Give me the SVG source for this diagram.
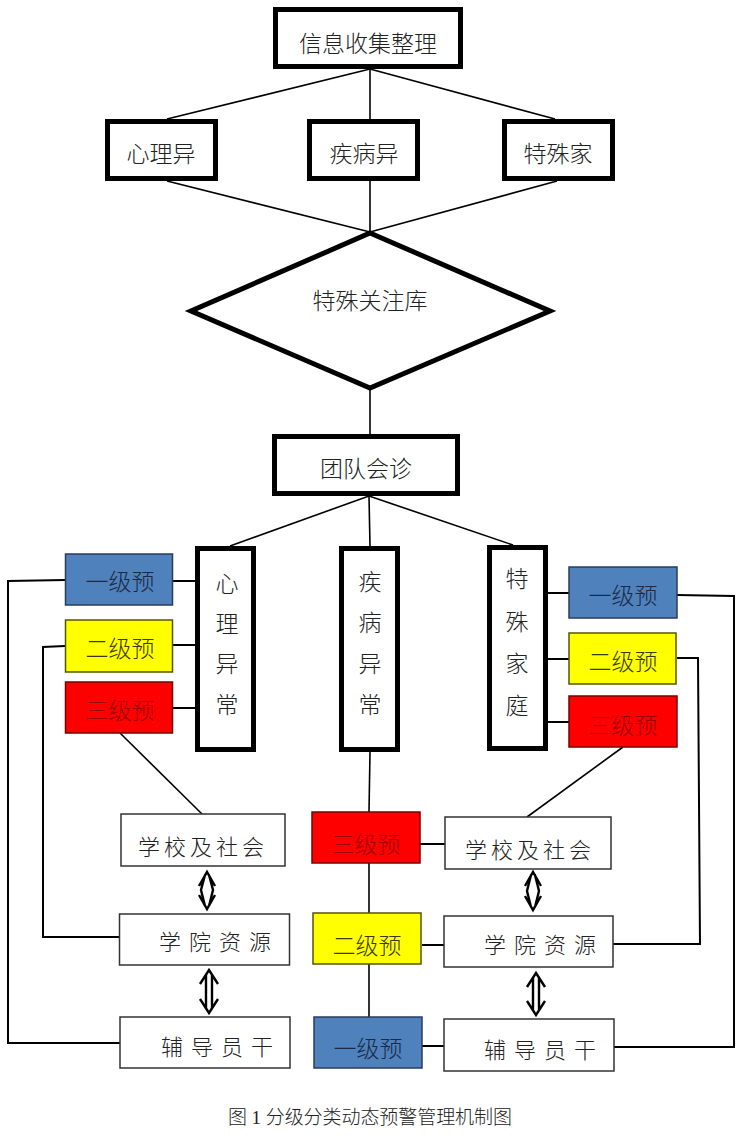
<svg xmlns="http://www.w3.org/2000/svg" width="742" height="1140" viewBox="0 0 742 1140">
<style>
text{font-family:"Noto Sans CJK SC","Noto Sans CJK JP",sans-serif;text-anchor:middle;dominant-baseline:central;fill:#222;font-weight:300}
.thick{fill:#fff;stroke:#000;stroke-width:5}
.thin{fill:#fff;stroke:#333;stroke-width:1.5}
.blue{fill:#4f81bd;stroke:#2a3d5c;stroke-width:1.5}
.yel{fill:#ffff00;stroke:#555500;stroke-width:1.5}
.red{fill:#ff0000;stroke:#7a0000;stroke-width:1.5}
.t23{font-size:23px}
.t22{font-size:22px}
.tb{fill:#1b2a45}
.ty{fill:#3a3a10}
.tr{fill:#9a0000}
.ln{stroke:#000;stroke-width:1.6;fill:none}
.ln2{stroke:#000;stroke-width:2;fill:none}
.ar{stroke:#000;stroke-width:2.4;fill:none;stroke-linejoin:miter}
</style>
<rect width="742" height="1140" fill="#fff"/>
<g id="connectors">
<line class="ln" x1="370" y1="69" x2="167" y2="119"/>
<line class="ln" x1="370" y1="69" x2="370" y2="119"/>
<line class="ln" x1="370" y1="69" x2="555" y2="119"/>
<line class="ln" x1="167" y1="181" x2="370" y2="232"/>
<line class="ln" x1="370" y1="181" x2="370" y2="232"/>
<line class="ln" x1="557" y1="181" x2="370" y2="232"/>
<line class="ln" x1="370" y1="388" x2="370" y2="434"/>
<line class="ln" x1="369" y1="496" x2="230" y2="546"/>
<line class="ln" x1="369" y1="496" x2="370" y2="546"/>
<line class="ln" x1="369" y1="496" x2="513" y2="545"/>
<line class="ln2" x1="173" y1="581" x2="195" y2="581"/>
<line class="ln2" x1="173" y1="645" x2="195" y2="645"/>
<line class="ln2" x1="173" y1="708" x2="195" y2="708"/>
<line class="ln2" x1="548" y1="593" x2="569" y2="593"/>
<line class="ln2" x1="548" y1="659" x2="569" y2="659"/>
<line class="ln2" x1="548" y1="722" x2="569" y2="722"/>
<polyline class="ln2" points="65,580 8,581 8,1043 120,1043"/>
<polyline class="ln2" points="65,646 43,647 43,937 119,937"/>
<polyline class="ln2" points="677,595 734,596 734,1047 614,1047"/>
<polyline class="ln2" points="677,658 698,658 700,944 613,944"/>
<line class="ln" x1="120" y1="733" x2="202" y2="814"/>
<line class="ln" x1="623" y1="747" x2="527" y2="817"/>
<line class="ln" x1="370" y1="752" x2="369" y2="812"/>
<line class="ln" x1="369" y1="863" x2="369" y2="913"/>
<line class="ln" x1="369" y1="964" x2="369" y2="1017"/>
<line class="ln2" x1="420" y1="844" x2="445" y2="844"/>
<line class="ln2" x1="422" y1="945" x2="444" y2="945"/>
<line class="ln2" x1="422" y1="1046" x2="444" y2="1046"/>
<path class="ar" d="M199,886 L207,872 L215,886 M199,895 L207,909 L215,895 M205,875 L201,890 L205,906 M209,875 L213,890 L209,906"/>
<path class="ar" d="M200,984 L209,970 L218,984 M200,999 L209,1013 L218,999 M206,975 L206,1008 M212,975 L212,1008"/>
<path class="ar" d="M525,886 L533,872 L541,886 M525,896 L533,910 L541,896 M531,875 L527,891 L531,907 M535,875 L539,891 L535,907"/>
<path class="ar" d="M527,987 L536,973 L545,987 M527,1001 L536,1015 L545,1001 M533,978 L533,1010 M539,978 L539,1010"/>
</g>
<g id="n_collect"><rect class="thick" x="275.5" y="9.5" width="185" height="57"/><text class="t23" x="368" y="42">信息收集整理</text></g>
<g id="n_psy"><rect class="thick" x="107.5" y="121.5" width="108" height="57"/><text class="t23" x="161" y="152">心理异</text></g>
<g id="n_ill"><rect class="thick" x="309.5" y="121.5" width="108" height="57"/><text class="t23" x="364" y="152">疾病异</text></g>
<g id="n_fam"><rect class="thick" x="504.5" y="121.5" width="108" height="57"/><text class="t23" x="558" y="152">特殊家</text></g>
<g id="n_lib"><polygon class="thick" points="370,233 550,311 370,388 191,311"/><text class="t23" x="370" y="299">特殊关注库</text></g>
<g id="n_team"><rect class="thick" x="274.5" y="436.5" width="183" height="57"/><text class="t23" x="366" y="467">团队会诊</text></g>
<g id="n_psy2"><rect class="thick" x="197.5" y="548.5" width="56" height="201"/>
<text class="t23" x="227" y="582">心</text><text class="t23" x="227" y="622">理</text><text class="t23" x="227" y="662">异</text><text class="t23" x="227" y="703">常</text></g>
<g id="n_ill2"><rect class="thick" x="341.5" y="548.5" width="56" height="201"/>
<text class="t23" x="370" y="580">疾</text><text class="t23" x="370" y="621">病</text><text class="t23" x="370" y="662">异</text><text class="t23" x="370" y="703">常</text></g>
<g id="n_fam2"><rect class="thick" x="489.5" y="547.5" width="56" height="201"/>
<text class="t23" x="517" y="577">特</text><text class="t23" x="517" y="620">殊</text><text class="t23" x="517" y="662">家</text><text class="t23" x="517" y="704">庭</text></g>
<g id="n_l1"><rect class="blue" x="65.5" y="554" width="107" height="51"/><text class="t23 tb" x="120" y="580">一级预</text></g>
<g id="n_l2"><rect class="yel" x="65.5" y="620" width="107" height="52"/><text class="t23 ty" x="120" y="647">二级预</text></g>
<g id="n_l3"><rect class="red" x="65.5" y="682" width="107" height="51"/><text class="t23 tr" x="120" y="709">三级预</text></g>
<g id="n_r1"><rect class="blue" x="569" y="567" width="108" height="51"/><text class="t23 tb" x="623" y="594">一级预</text></g>
<g id="n_r2"><rect class="yel" x="569" y="633" width="107" height="51"/><text class="t23 ty" x="623" y="660">二级预</text></g>
<g id="n_r3"><rect class="red" x="569" y="696" width="108" height="51"/><text class="t23 tr" x="623" y="724">三级预</text></g>
<g id="n_c3"><rect class="red" x="312" y="812" width="108" height="51"/><text class="t23 tr" x="366" y="843">三级预</text></g>
<g id="n_c2"><rect class="yel" x="313" y="913" width="108" height="51"/><text class="t23 ty" x="367" y="944">二级预</text></g>
<g id="n_c1"><rect class="blue" x="314" y="1017" width="108" height="51"/><text class="t23 tb" x="368" y="1047">一级预</text></g>
<g id="n_ls"><rect class="thin" x="121" y="814" width="164" height="52"/><text class="t22" x="203" y="845" letter-spacing="4">学校及社会</text></g>
<g id="n_lc"><rect class="thin" x="119.5" y="914" width="170" height="51"/><text class="t22" x="219" y="940" letter-spacing="8">学院资源</text></g>
<g id="n_lf"><rect class="thin" x="120" y="1017" width="170" height="51"/><text class="t22" x="221" y="1045" letter-spacing="8">辅导员干</text></g>
<g id="n_rs"><rect class="thin" x="445" y="817" width="166" height="52"/><text class="t22" x="530" y="848" letter-spacing="4">学校及社会</text></g>
<g id="n_rc"><rect class="thin" x="444" y="916" width="169" height="51"/><text class="t22" x="544" y="943" letter-spacing="8">学院资源</text></g>
<g id="n_rf"><rect class="thin" x="444" y="1019" width="170" height="52"/><text class="t22" x="544" y="1048" letter-spacing="8">辅导员干</text></g>
<text x="370" y="1117" textLength="284" lengthAdjust="spacing" style="font-family:'Liberation Serif','Noto Sans CJK SC',serif;font-size:19px;fill:#222">图 1 分级分类动态预警管理机制图</text>
</svg>
